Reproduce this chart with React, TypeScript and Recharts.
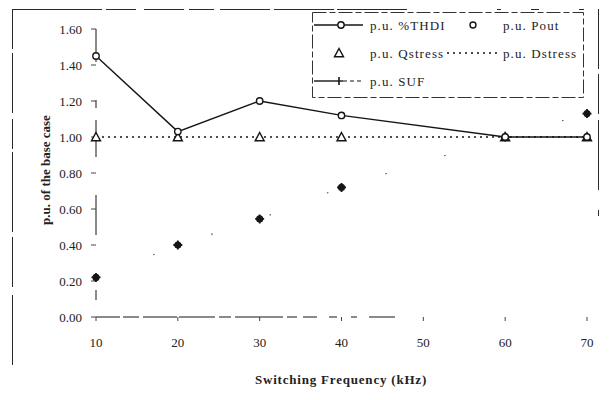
import React from "react";
import { ComposedChart, Line, XAxis, YAxis } from "recharts";

// switching frequency sweep, all values per-unit of the base case
const freqs = [10, 20, 30, 40, 60, 70];
const thdi = [1.45, 1.03, 1.2, 1.12, 1.0, 1.0];
const qstress = [1.0, 1.0, 1.0, 1.0, 1.0, 1.0];
const dstress = [1.0, 1.0, 1.0, 1.0, 1.0, 1.0];
const pout = [0.22, 0.4, 0.545, 0.72, 1.0, 1.13];
const suf = [0.22, 0.4, 0.545, 0.72, 1.0, 1.13];

const xTicks = [10, 20, 30, 40, 50, 60, 70];
const yTicks = [0, 0.2, 0.4, 0.6, 0.8, 1.0, 1.2, 1.4, 1.6];

const serif = "'Liberation Serif', 'DejaVu Serif', serif";
const ink = "#151515";

const rows = freqs.map((f, i) => ({
  f,
  thdi: thdi[i],
  qstress: qstress[i],
  dstress: dstress[i],
  pout: pout[i],
  suf: suf[i],
}));

const OpenCircle = (p: any) => {
  const { cx, cy, index } = p;
  if (cx == null || cy == null) return <g key={`oc-${index}`} />;
  return (
    <circle key={`oc-${index}`} cx={cx} cy={cy} r={3.2} fill="#fff" stroke={ink} strokeWidth={1.4} />
  );
};

const FilledDot = (p: any) => {
  const { cx, cy, index } = p;
  if (cx == null || cy == null) return <g key={`fd-${index}`} />;
  return <circle key={`fd-${index}`} cx={cx} cy={cy} r={3.6} fill={ink} />;
};

const Plus = (p: any) => {
  const { cx, cy, index } = p;
  if (cx == null || cy == null) return <g key={`pl-${index}`} />;
  return (
    <path
      key={`pl-${index}`}
      d={`M${cx - 4.5},${cy} H${cx + 4.5} M${cx},${cy - 4.5} V${cy + 4.5}`}
      stroke={ink}
      strokeWidth={1.8}
    />
  );
};

const Triangle = (p: any) => {
  const { cx, cy, index } = p;
  if (cx == null || cy == null) return <g key={`tr-${index}`} />;
  return (
    <path
      key={`tr-${index}`}
      d={`M${cx},${cy - 4.5} L${cx + 4.5},${cy + 3.8} L${cx - 4.5},${cy + 3.8} Z`}
      fill="#fff"
      stroke={ink}
      strokeWidth={1.4}
    />
  );
};

// legend box, axis titles and the figure's outer frame, laid over the chart
function Overlay() {
  const lx = 312;
  const ly = 12;
  const row = [25, 53, 81];
  const txt = { fontFamily: serif, fontSize: 13, fill: "#222", letterSpacing: 1.1 } as const;
  return (
    <svg width={609} height={400} style={{ position: "absolute", left: 0, top: 0, pointerEvents: "none" }}>
      {/* outer frame: left, top and right edges only */}
      <line x1={12.5} y1={9} x2={12.5} y2={400} stroke="#2a2a2a" strokeDasharray="40 4 60 6 30 3 80 5 50 8 70" />
      <line x1={12} y1={9.5} x2={598} y2={9.5} stroke="#2a2a2a" strokeDasharray="90 4 30 8 40 5 25 6 50 4 60 3 70" />
      <line x1={598.5} y1={9} x2={598.5} y2={280} stroke="#2a2a2a" strokeDasharray="60 5 40 6 70 20 6 80 8" />

      <defs>
        <clipPath id="lgclip">
          <rect x={lx} y={ly} width={271} height={85} />
        </clipPath>
      </defs>
      <rect
        x={lx + 0.5}
        y={ly + 0.5}
        width={271}
        height={85}
        fill="#fff"
        stroke="#333"
        strokeDasharray="14 3 6 3"
      />
      <g clipPath="url(#lgclip)">
        <line x1={lx + 2} y1={row[0]} x2={lx + 51} y2={row[0]} stroke={ink} strokeWidth={1.4} />
        <circle cx={lx + 29} cy={row[0]} r={3.2} fill="#fff" stroke={ink} strokeWidth={1.4} />
        <text x={lx + 58} y={row[0] + 4.5} {...txt}>p.u. %THDI</text>
        <circle cx={lx + 161} cy={row[0]} r={3} fill="#fff" stroke={ink} strokeWidth={1.4} />
        <text x={lx + 191} y={row[0] + 4.5} {...txt}>p.u. Pout</text>

        <path
          d={`M${lx + 27},${row[1] - 4.5} L${lx + 31.5},${row[1] + 3.8} L${lx + 22.5},${row[1] + 3.8} Z`}
          fill="#fff"
          stroke={ink}
          strokeWidth={1.4}
        />
        <text x={lx + 58} y={row[1] + 4.5} {...txt}>p.u. Qstress</text>
        <line x1={lx + 135} y1={row[1]} x2={lx + 185} y2={row[1]} stroke={ink} strokeWidth={1.6} strokeDasharray="2 4" />
        <text x={lx + 191} y={row[1] + 4.5} {...txt}>p.u. Dstress</text>

        <line x1={lx + 2} y1={row[2]} x2={lx + 31} y2={row[2]} stroke={ink} strokeWidth={1.4} />
        <line x1={lx + 31} y1={row[2]} x2={lx + 51} y2={row[2]} stroke={ink} strokeWidth={1.2} strokeDasharray="4 3" />
        <path d={`M${lx + 27},${row[2] - 4} V${row[2] + 4}`} stroke={ink} strokeWidth={1.6} />
        <text x={lx + 58} y={row[2] + 4.5} {...txt}>p.u. SUF</text>
      </g>

      <text
        x={341}
        y={384}
        textAnchor="middle"
        fontFamily={serif}
        fontSize={13}
        fontWeight="bold"
        letterSpacing={0.8}
        fill="#222"
      >
        Switching Frequency (kHz)
      </text>
      <text
        x={0}
        y={0}
        transform="translate(50,170) rotate(-90)"
        textAnchor="middle"
        fontFamily={serif}
        fontSize={13}
        fontWeight="bold"
        fill="#222"
      >
        p.u. of the base case
      </text>
    </svg>
  );
}

export default function App() {
  const tick = { fontSize: 13, fill: "#222", fontFamily: serif };
  return (
    <div style={{ position: "relative", width: 609, height: 400, margin: -8, background: "#fff" }}>
      <ComposedChart
        width={609}
        height={400}
        data={rows}
        margin={{ top: 29, right: 22, bottom: 43, left: 36 }}
      >
        <XAxis
          dataKey="f"
          type="number"
          domain={[10, 70]}
          ticks={xTicks}
          height={40}
          tickSize={4}
          tickMargin={17}
          tick={tick}
          tickLine={{ stroke: "#444" }}
          axisLine={{
            stroke: ink,
            strokeDasharray: "24 3 16 4 34 2 36 4 12 4 48 4 10 6 14 12 8 14 6 12 26 400",
          }}
        />
        <YAxis
          type="number"
          domain={[0, 1.6]}
          ticks={yTicks}
          width={60}
          tickSize={5}
          tickMargin={9}
          tick={tick}
          tickFormatter={(v: number) => v.toFixed(2)}
          tickLine={{ stroke: "#444" }}
          axisLine={{ stroke: ink, strokeDasharray: "33 38 8 12 37 38 40 55 10 40" }}
        />
        <Line
          dataKey="dstress"
          stroke={ink}
          strokeWidth={1.6}
          strokeDasharray="2 4"
          dot={false}
          isAnimationActive={false}
        />
        <Line dataKey="qstress" stroke="none" dot={Triangle} activeDot={false} isAnimationActive={false} />
        <Line
          dataKey="suf"
          stroke="#555"
          strokeWidth={1.2}
          strokeDasharray="1.5 60"
          dot={Plus}
          activeDot={false}
          isAnimationActive={false}
        />
        <Line dataKey="pout" stroke="none" dot={FilledDot} activeDot={false} isAnimationActive={false} />
        <Line
          dataKey="thdi"
          stroke={ink}
          strokeWidth={1.4}
          dot={OpenCircle}
          activeDot={false}
          isAnimationActive={false}
        />
      </ComposedChart>
      <Overlay />
    </div>
  );
}
